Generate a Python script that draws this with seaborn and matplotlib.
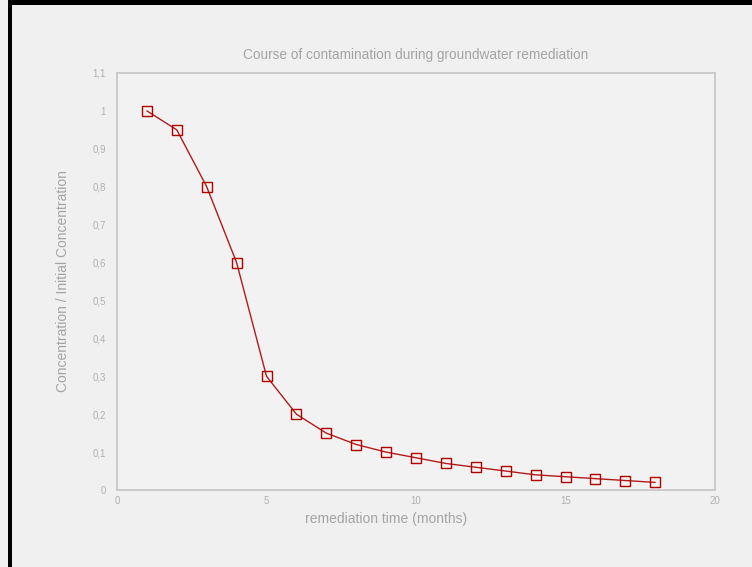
import matplotlib
matplotlib.use("Agg")
import matplotlib.pyplot as plt
import seaborn as sns
import pandas as pd
from matplotlib.patches import Rectangle
from matplotlib.ticker import FuncFormatter

months = list(range(1, 19))
ratio = [1.0, 0.95, 0.8, 0.6, 0.3, 0.2, 0.15, 0.12, 0.1, 0.085, 0.07, 0.06,
         0.05, 0.04, 0.035, 0.03, 0.025, 0.02]
x_ticks = [0, 5, 10, 15, 20]
y_ticks = [0, 0.1, 0.2, 0.3, 0.4, 0.5, 0.6, 0.7, 0.8, 0.9, 1.0, 1.1]

sns.set_theme(style="white")
plt.rcParams['font.family'] = ['Liberation Sans', 'DejaVu Sans']

W, H = 752, 567
fig = plt.figure(figsize=(W / 100, H / 100), dpi=100, facecolor="#f0f0f0")
ax = fig.add_axes([117 / W, 1 - 490 / H, (715 - 117) / W, (490 - 73) / H])
ax.set_facecolor("#f2f2f2")

df = pd.DataFrame({"t": months, "c": ratio})
sns.lineplot(data=df, x="t", y="c", ax=ax, color="#b31b1b", linewidth=1.0,
             marker="s", markersize=7, markerfacecolor="none",
             markeredgecolor="#b00000", markeredgewidth=1.0)

ax.set_xlim(0, 20)
ax.set_ylim(0, 1.1)
ax.set_xticks(x_ticks)
ax.set_yticks(y_ticks)
fmt = FuncFormatter(lambda v, p: ("%g" % round(v, 2)).replace(".", ","))
ax.xaxis.set_major_formatter(fmt)
ax.yaxis.set_major_formatter(fmt)
ax.tick_params(axis="both", direction="in", length=5, width=0.8, color="#bdbdbd",
               labelsize=7, labelcolor="#b0b0b0")
ax.tick_params(axis="y", pad=8)
ax.tick_params(axis="x", pad=4)
ax.tick_params(top=False, right=False)
for s in ax.spines.values():
    s.set_color("#c8c8c8")
    s.set_linewidth(1.3)

ax.set_title("Course of contamination during groundwater remediation",
             color="#a4a4a4", fontsize=9.8, pad=10)
ax.set_xlabel("remediation time (months)", color="#a4a4a4", fontsize=10)
ax.xaxis.set_label_coords((386 - 117) / 598, (490 - 512) / 417)
ax.set_ylabel("Concentration / Initial Concentration", color="#a4a4a4", fontsize=10, labelpad=16)

# black frame lines at top and left
fig.add_artist(Rectangle((8 / W, 0), 4 / W, 1, transform=fig.transFigure,
                         facecolor="black", edgecolor="none"))
fig.add_artist(Rectangle((8 / W, 1 - 5 / H), 1 - 8 / W, 5 / H, transform=fig.transFigure,
                         facecolor="black", edgecolor="none"))

fig.savefig("out.png", dpi=100, facecolor=fig.get_facecolor())
